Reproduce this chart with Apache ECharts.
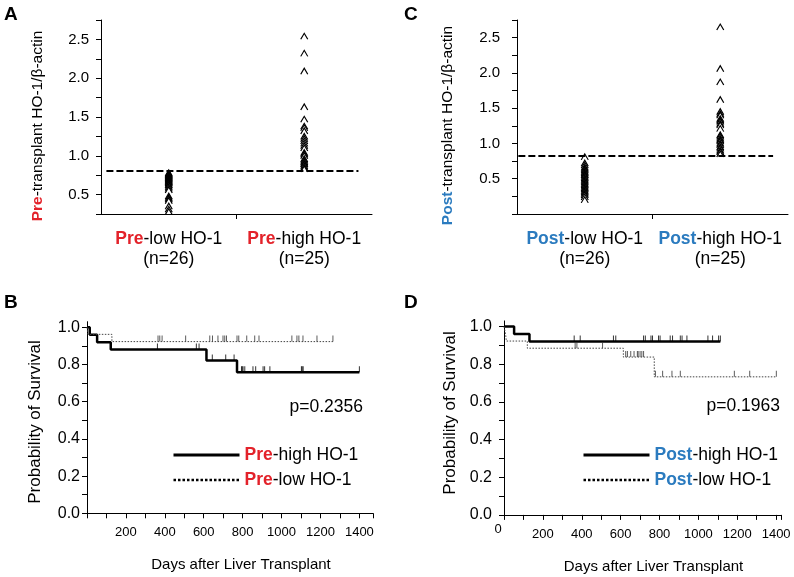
<!DOCTYPE html>
<html><head><meta charset="utf-8">
<script src="https://cdn.jsdelivr.net/npm/echarts@6/dist/echarts.min.js"></script>
<style>html,body{margin:0;padding:0;background:#fff}#c{width:794px;height:577px}</style>
</head><body><div id="c"></div>
<script>
// ---------- DATA ----------
const groupsPre = ['Pre-low HO-1', 'Pre-high HO-1'];
const groupsPost = ['Post-low HO-1', 'Post-high HO-1'];
const groupN = [26, 25];

const preLowVals = [0.78, 0.77, 0.76, 0.75, 0.74, 0.73, 0.72, 0.71, 0.70, 0.69, 0.68, 0.67, 0.66, 0.65, 0.63, 0.62, 0.60, 0.58, 0.56, 0.48, 0.46, 0.44, 0.42, 0.35, 0.31, 0.28];
const preHighVals = [2.54, 2.32, 2.09, 1.63, 1.47, 1.38, 1.36, 1.32, 1.25, 1.22, 1.19, 1.16, 1.13, 1.10, 1.04, 1.02, 1.00, 0.96, 0.94, 0.92, 0.90, 0.89, 0.87, 0.85, 0.83];
const postLowVals = [0.81, 0.72, 0.69, 0.66, 0.64, 0.62, 0.60, 0.58, 0.56, 0.55, 0.53, 0.51, 0.49, 0.47, 0.45, 0.43, 0.41, 0.39, 0.37, 0.35, 0.33, 0.31, 0.29, 0.27, 0.24, 0.20];
const postHighVals = [2.65, 2.06, 1.87, 1.62, 1.45, 1.42, 1.40, 1.35, 1.33, 1.31, 1.28, 1.26, 1.21, 1.12, 1.10, 1.07, 1.05, 1.03, 1.00, 0.98, 0.95, 0.93, 0.90, 0.88, 0.85];
const cutPre = 0.81;
const cutPost = 0.83;

const scatterYTicksA = [0.25, 0.5, 0.75, 1.0, 1.25, 1.5, 1.75, 2.0, 2.25, 2.5, 2.75];
const scatterYTicksC = [0, 0.25, 0.5, 0.75, 1.0, 1.25, 1.5, 1.75, 2.0, 2.25, 2.5, 2.75];
const scatterYLabels = [0.5, 1.0, 1.5, 2.0, 2.5];

// Kaplan-Meier: event times (days) and survival after each step
const preHighTimes = [0, 14, 52, 122, 614, 771, 1400];
const preHighSurv  = [1, 0.96, 0.92, 0.88, 0.821, 0.758, 0.758];
const preHighCens  = [362, 562, 576, 644, 713, 756, 794, 798, 802, 811, 853, 867, 905, 913, 940, 1102, 1106, 1111, 1400];
const preLowTimes  = [0, 5, 128, 1264];
const preLowSurv   = [1, 0.962, 0.923, 0.923];
const preLowCens   = [365, 374, 386, 507, 631, 645, 673, 699, 708, 717, 771, 780, 821, 862, 884, 1053, 1079, 1089, 1110, 1182, 1264];

const postHighTimes = [0, 52, 131, 1113];
const postHighSurv  = [1, 0.96, 0.92, 0.92];
const postHighCens  = [361, 392, 563, 575, 718, 727, 756, 764, 795, 803, 855, 867, 907, 916, 941, 1049, 1073, 1104, 1113];
const postLowTimes  = [0, 8, 12, 120, 614, 773, 1401];
const postLowSurv   = [1, 0.962, 0.923, 0.885, 0.838, 0.733, 0.733];
const postLowCens   = [366, 375, 507, 626, 635, 652, 669, 686, 690, 700, 709, 718, 779, 816, 864, 907, 1185, 1264, 1401];

const kmXTicks = [0, 100, 200, 300, 400, 500, 600, 700, 800, 900, 1000, 1100, 1200, 1300, 1400];
const kmXLabels = [200, 400, 600, 800, 1000, 1200, 1400];
const kmYTicks = [0, 0.1, 0.2, 0.3, 0.4, 0.5, 0.6, 0.7, 0.8, 0.9, 1.0];
const kmYLabels = [0, 0.2, 0.4, 0.6, 0.8, 1.0];

// ---------- CHART ----------
const FONT = '"Liberation Sans", Arial, Helvetica, sans-serif';
const RED = '#e3222a', BLUE = '#2b7bbf';
const CARET = 'path://M0,9 L5,0 L10,9';

function levelAt(times, surv, t) {
  let s = surv[0];
  for (let i = 0; i < times.length; i++) if (times[i] <= t) s = surv[i];
  return s;
}
function prefixRich(name) {
  const i = name.indexOf('-');
  return '{p|' + name.slice(0, i) + '}' + name.slice(i);
}
const axisBlack = { show: true, lineStyle: { color: '#000', width: 1 } };

function scatterX(grid, groups, color) {
  return {
    gridIndex: grid, type: 'value', min: 0, max: 2,
    axisLine: axisBlack,
    axisTick: { show: true, length: 5, lineStyle: { color: '#000' }, customValues: [1] },
    splitLine: { show: false },
    axisLabel: {
      customValues: [0.5, 1.5], margin: 15, fontSize: 17.5, fontFamily: FONT, color: '#000', lineHeight: 20,
      formatter: v => prefixRich(groups[Math.floor(v)]) + '\n(n=' + groupN[Math.floor(v)] + ')',
      rich: { p: { color: color, fontWeight: 'bold', fontSize: 17.5, fontFamily: FONT, lineHeight: 20 } }
    }
  };
}
function scatterY(grid, min, ticks, name, color, gap, margin, pad) {
  return {
    gridIndex: grid, type: 'value', min: min, max: 2.75,
    axisLine: axisBlack,
    axisTick: { show: true, length: 5, lineStyle: { color: '#000' }, customValues: ticks },
    splitLine: { show: false },
    axisLabel: { customValues: scatterYLabels, formatter: v => v.toFixed(1), fontSize: 15, fontFamily: FONT, color: '#000', margin: margin },
    name: prefixRich(name), nameLocation: 'middle', nameRotate: 90, nameGap: gap,
    nameTextStyle: { fontSize: 15.5, fontFamily: FONT, color: '#000', padding: pad,
      rich: { p: { color: color, fontWeight: 'bold', fontSize: 15.5, fontFamily: FONT } } }
  };
}
function kmX(grid, max, tickEnd) {
  return {
    gridIndex: grid, type: 'value', min: 0, max: max,
    axisLine: axisBlack,
    axisTick: { show: true, length: 5, lineStyle: { color: '#000' }, customValues: kmXTicks.concat([tickEnd]) },
    splitLine: { show: false },
    axisLabel: { customValues: kmXLabels, formatter: v => String(v), fontSize: 13, fontFamily: FONT, color: '#000', margin: 13 },
    name: 'Days after Liver Transplant', nameLocation: 'middle', nameGap: 44,
    nameTextStyle: { fontSize: 15, fontFamily: FONT, color: '#000', padding: [0, 0, 0, 22] }
  };
}
function kmY(grid, gap, margin, pad) {
  return {
    gridIndex: grid, type: 'value', min: 0, max: 1.03,
    axisLine: axisBlack,
    axisTick: { show: true, length: 5, lineStyle: { color: '#000' }, customValues: kmYTicks },
    splitLine: { show: false },
    axisLabel: { customValues: kmYLabels, formatter: v => v.toFixed(1), fontSize: 16, fontFamily: FONT, color: '#000', margin: margin },
    name: 'Probability of Survival', nameLocation: 'middle', nameRotate: 90, nameGap: gap,
    nameTextStyle: { fontSize: 17, fontFamily: FONT, color: '#000', padding: pad }
  };
}
function scatterSeries(grid, vals, xpos, cut, x0, x1) {
  const s = {
    type: 'scatter', xAxisIndex: grid, yAxisIndex: grid, silent: true, z: 3,
    data: vals.map(v => [xpos, v]),
    symbol: CARET, symbolSize: [7, 6],
    itemStyle: { color: 'rgba(0,0,0,0)', borderColor: '#000', borderWidth: 1.1, opacity: 1 }
  };
  if (cut !== null) {
    s.markLine = {
      silent: true, symbol: ['none', 'none'], label: { show: false }, z: 2,
      lineStyle: { type: [7, 3], color: '#000', width: 2 },
      data: [[{ coord: [x0, cut] }, { coord: [x1, cut] }]]
    };
  }
  return s;
}
function kmLine(grid, name, times, surv, solid) {
  return {
    type: 'line', name: name, xAxisIndex: grid, yAxisIndex: grid, step: 'end', symbol: 'none', silent: true,
    data: times.map((t, i) => [t, surv[i]]),
    lineStyle: solid ? { color: '#000', width: 2.5, type: 'solid' } : { color: '#444', width: 1, type: [1.5, 1.5] },
    itemStyle: { color: '#000' }
  };
}
function kmCens(grid, times, surv, cens, solid) {
  return {
    type: 'scatter', xAxisIndex: grid, yAxisIndex: grid, silent: true, z: 4,
    data: cens.map(t => [t, levelAt(times, surv, t)]),
    symbol: 'rect', symbolSize: [1, 6], symbolOffset: [0, -3],
    itemStyle: { color: solid ? '#000' : '#333' }
  };
}
function legendFor(names, left, color) {
  const hide = { opacity: 0, borderWidth: 0, color: 'rgba(0,0,0,0)' };
  return {
    data: [
      { name: names[0], lineStyle: { width: 3, type: 'solid', color: '#000' }, itemStyle: hide },
      { name: names[1], lineStyle: { width: 2.5, type: [2.5, 2], color: '#000' }, itemStyle: hide }
    ],
    orient: 'vertical', left: left, top: 441, itemWidth: 66, itemHeight: 14, itemGap: 7,
    selectedMode: false,
    formatter: n => prefixRich(n),
    textStyle: { fontSize: 17.5, fontFamily: FONT, color: '#000',
      rich: { p: { color: color, fontWeight: 'bold', fontSize: 17.5, fontFamily: FONT } } }
  };
}
function txt(x, y, text, size, bold, align) {
  return { type: 'text', x: x, y: y, silent: true,
    style: { text: text, font: (bold ? 'bold ' : '') + size + 'px ' + FONT, fill: '#000', align: align || 'left', verticalAlign: 'middle' } };
}

const chart = echarts.init(document.getElementById('c'), null, { renderer: 'canvas' });
chart.setOption({
  animation: false,
  backgroundColor: '#fff',
  grid: [
    { left: 101, top: 20, width: 271, height: 194 },
    { left: 517, top: 20, width: 271, height: 194 },
    { left: 87, top: 321.7, width: 286, height: 191.6 },
    { left: 504, top: 320.9, width: 277, height: 194 }
  ],
  xAxis: [
    scatterX(0, groupsPre, RED),
    scatterX(1, groupsPost, BLUE),
    kmX(2, 1470, 1470),
    kmX(3, 1425, 1425)
  ],
  yAxis: [
    scatterY(0, 0.25, scatterYTicksA, 'Pre-transplant HO-1/β-actin', RED, 55, 12, [0, 18, 0, 0]),
    scatterY(1, 0, scatterYTicksC, 'Post-transplant HO-1/β-actin', BLUE, 61, 17, [0, 17, 0, 0]),
    kmY(2, 43, 7, [0, 9, 0, 0]),
    kmY(3, 45, 12, [0, 0, 0, 10])
  ],
  legend: [
    legendFor(['Pre-high HO-1', 'Pre-low HO-1'], 167, RED),
    legendFor(['Post-high HO-1', 'Post-low HO-1'], 577, BLUE)
  ],
  series: [
    scatterSeries(0, preLowVals, 0.5, cutPre, 0.04, 1.9),
    scatterSeries(0, preHighVals, 1.5, null),
    scatterSeries(1, postLowVals, 0.5, cutPost, 0.01, 1.89),
    scatterSeries(1, postHighVals, 1.5, null),
    kmLine(2, 'Pre-high HO-1', preHighTimes, preHighSurv, true),
    kmLine(2, 'Pre-low HO-1', preLowTimes, preLowSurv, false),
    kmCens(2, preHighTimes, preHighSurv, preHighCens, true),
    kmCens(2, preLowTimes, preLowSurv, preLowCens, false),
    kmLine(3, 'Post-high HO-1', postHighTimes, postHighSurv, true),
    kmLine(3, 'Post-low HO-1', postLowTimes, postLowSurv, false),
    kmCens(3, postHighTimes, postHighSurv, postHighCens, true),
    kmCens(3, postLowTimes, postLowSurv, postLowCens, false)
  ],
  graphic: [
    txt(4, 15, 'A', 19, true),
    txt(404, 15, 'C', 19, true),
    txt(4, 303, 'B', 19, true),
    txt(404, 303, 'D', 19, true),
    txt(363, 407, 'p=0.2356', 17.5, false, 'right'),
    txt(780, 406, 'p=0.1963', 17.5, false, 'right'),
    txt(498, 529, '0', 13, false, 'center')
  ]
});
</script></body></html>
